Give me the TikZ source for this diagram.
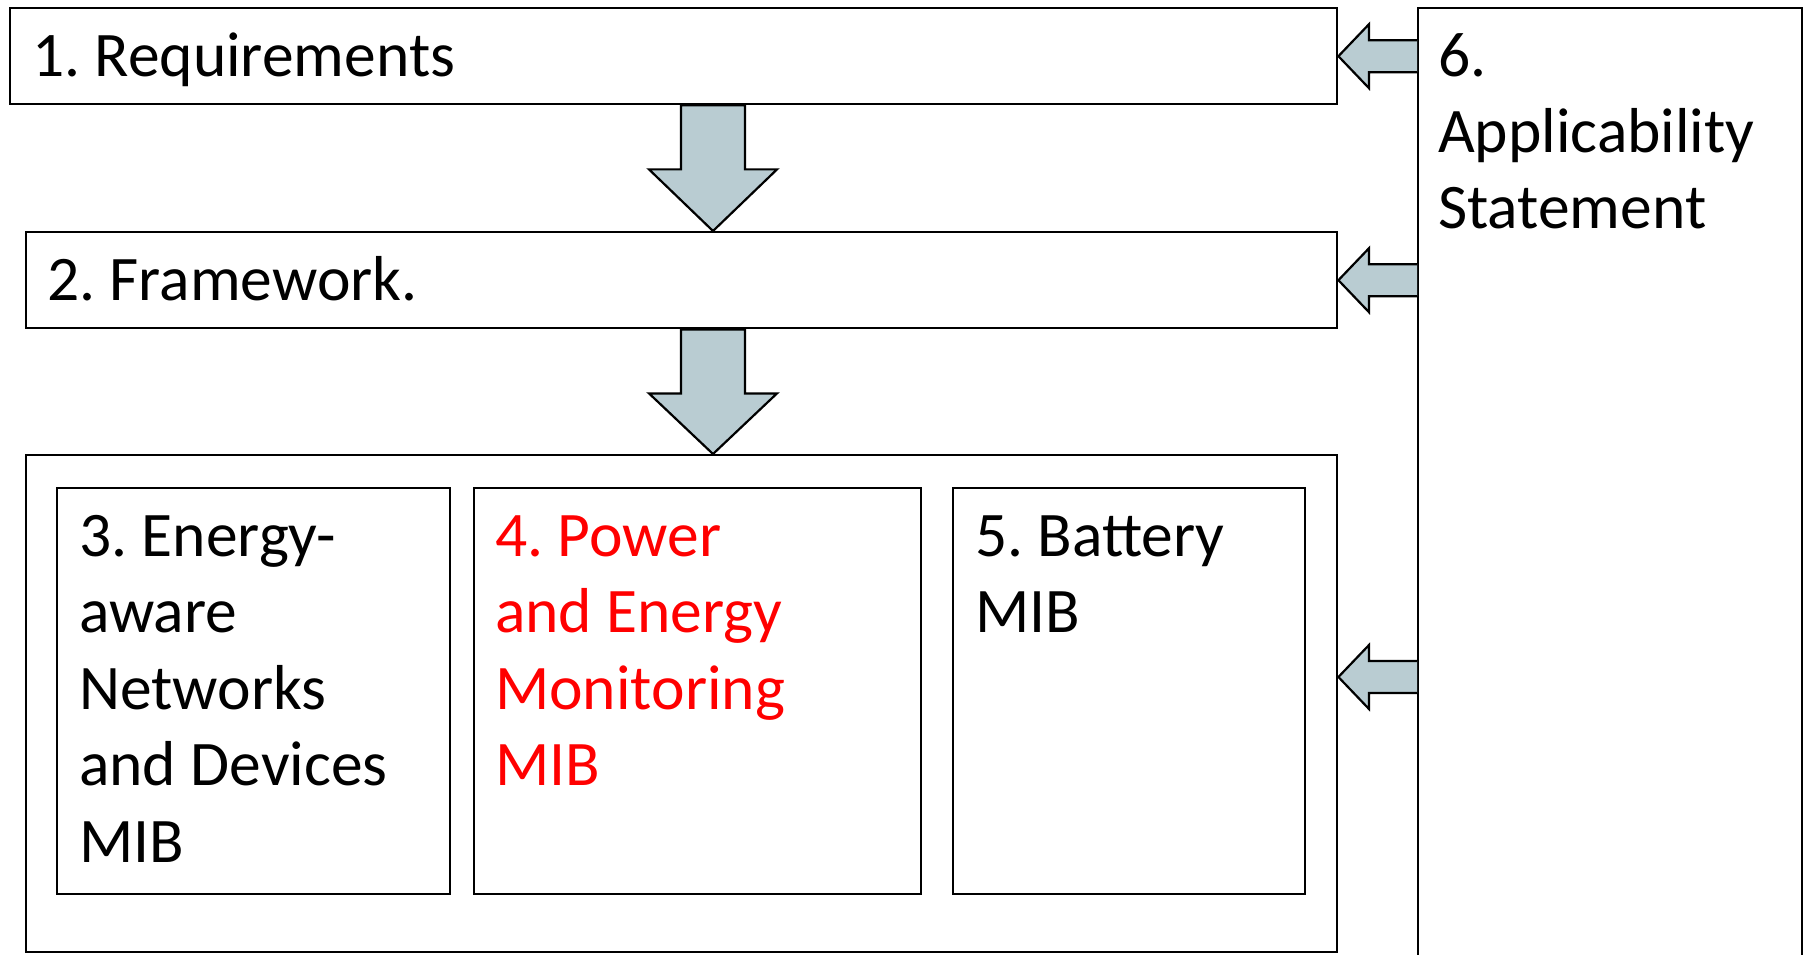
\documentclass[tikz,border=0pt]{standalone}
\usepackage{fontspec}
\setmainfont{Carlito}
\frenchspacing
\usetikzlibrary{calc}
\definecolor{arrowfill}{HTML}{B9CCD2}
\definecolor{redtext}{HTML}{FF0000}
\tikzset{
  box/.style={draw=black, line width=2.4pt, fill=white, rectangle, inner sep=0pt, anchor=north west},
  lbl/.style={anchor=base west, inner sep=0pt, align=left, font=\fontsize{63.5}{76.5}\selectfont},
  blockarrow/.style={draw=black, line width=2.2pt, fill=arrowfill, line join=miter}
}
\begin{document}
\begin{tikzpicture}[x=1pt, y=-1pt]
\clip (0,0) rectangle (1808,955);
\fill[white] (0,0) rectangle (1808,955);

% boxes
\node[box, minimum width=1327pt, minimum height=96pt] (b1) at (9,7) {};
\node[box, minimum width=1311pt, minimum height=96pt] (b2) at (25,231) {};
\node[box, minimum width=1311pt, minimum height=497pt] (bg) at (25,454) {};
\node[box, minimum width=393pt, minimum height=406pt] (b3) at (56,487) {};
\node[box, minimum width=447pt, minimum height=406pt] (b4) at (473,487) {};
\node[box, minimum width=352pt, minimum height=406pt] (b5) at (952,487) {};
\node[box, minimum width=384pt, minimum height=1000pt] (b6) at (1417,7) {};

% labels (anchor = baseline of the last line)
\node[lbl] (t1) at ($(b1.north west)+(23,70)$) {1. Requirements};
\node[lbl] (t2) at ($(b2.north west)+(22,69)$) {2. Framework.};
\node[lbl] (t3) at ($(b3.north west)+(23,375)$) {3. Energy-\\aware\\Networks\\and Devices\\MIB};
\node[lbl, text=redtext] (t4) at ($(b4.north west)+(22,298.5)$) {4. Power\\and Energy\\Monitoring\\MIB};
\node[lbl] (t5) at ($(b5.north west)+(23,145.5)$) {5. Battery\\MIB};
\node[lbl] (t6) at ($(b6.north west)+(21,222)$) {6.\\Applicability\\Statement};

% down arrows
\coordinate (d1) at ($(b1.south west)+(704,0)$);
\draw[blockarrow] ($(d1)+(-32,0)$) -- ($(d1)+(32,0)$) -- ($(d1)+(32,64)$) -- ($(d1)+(64,64)$)
  -- (d1 |- b2.north) -- ($(d1)+(-64,64)$) -- ($(d1)+(-32,64)$) -- cycle;
\coordinate (d2) at ($(b2.south west)+(688,0)$);
\draw[blockarrow] ($(d2)+(-32,0)$) -- ($(d2)+(32,0)$) -- ($(d2)+(32,64)$) -- ($(d2)+(64,64)$)
  -- (d2 |- bg.north) -- ($(d2)+(-64,64)$) -- ($(d2)+(-32,64)$) -- cycle;

% left arrows
\coordinate (l1) at (b6.west |- b1.east);
\draw[blockarrow] ($(l1)+(0,16)$) -- ($(l1)+(-48,16)$) -- ($(l1)+(-48,32)$) -- (b1.east)
  -- ($(l1)+(-48,-32)$) -- ($(l1)+(-48,-16)$) -- ($(l1)+(0,-16)$);
\coordinate (l2) at (b6.west |- b2.east);
\draw[blockarrow] ($(l2)+(0,16)$) -- ($(l2)+(-48,16)$) -- ($(l2)+(-48,32)$) -- (b2.east)
  -- ($(l2)+(-48,-32)$) -- ($(l2)+(-48,-16)$) -- ($(l2)+(0,-16)$);
\coordinate (l3) at ($(b6.north west)+(0,670)$);
\coordinate (l3tip) at (bg.east |- l3);
\draw[blockarrow] ($(l3)+(0,16)$) -- ($(l3)+(-48,16)$) -- ($(l3)+(-48,32)$) -- (l3tip)
  -- ($(l3)+(-48,-32)$) -- ($(l3)+(-48,-16)$) -- ($(l3)+(0,-16)$);
\end{tikzpicture}
\end{document}
